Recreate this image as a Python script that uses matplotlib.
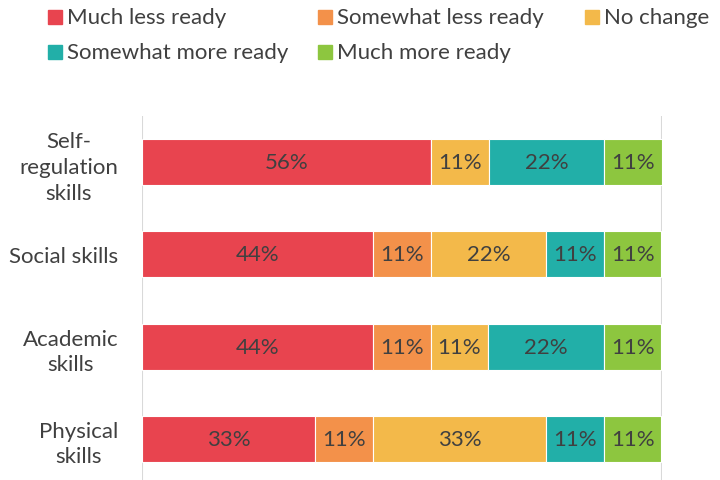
import matplotlib
matplotlib.use('Agg')
import matplotlib.pyplot as plt
from matplotlib.patches import Rectangle
import numpy as np

plt.rcParams['font.family'] = ['Lato', 'DejaVu Sans']

# Data: share of respondents (n = 9), in percent
categories = ['Self-\nregulation\nskills', 'Social skills', 'Academic\nskills', 'Physical\nskills']
series_names = ['Much less ready', 'Somewhat less ready', 'No change',
                'Somewhat more ready', 'Much more ready']
much_less = [55.6, 44.4, 44.4, 33.3]
somewhat_less = [0.0, 11.1, 11.1, 11.1]
no_change = [11.1, 22.2, 11.1, 33.3]
somewhat_more = [22.2, 11.1, 22.2, 11.1]
much_more = [11.1, 11.1, 11.1, 11.1]

colors = ['#E8444F', '#F3914A', '#F3B94A', '#22AFA8', '#8DC63F']
text_col = '#404040'
fs = 16

series = [much_less, somewhat_less, no_change, somewhat_more, much_more]

W, H = 720, 481
fig = plt.figure(figsize=(W / 100, H / 100), dpi=100)
ax = fig.add_axes([142 / W, -5 / H, 520 / W, 369 / H])

y = np.arange(len(categories))
left = np.zeros(len(categories))
for name, vals, col in zip(series_names, series, colors):
    vals = np.array(vals)
    ax.barh(y, vals, left=left, height=0.5, color=col,
            edgecolor='white', linewidth=0.8, label=name)
    for yi, l, v in zip(y, left, vals):
        if v > 0:
            ax.text(l + v / 2, yi, f'{v:.0f}%', ha='center', va='center',
                    fontsize=fs, color=text_col)
    left += vals

ax.set_xlim(0, 100)
ax.set_ylim(len(categories) - 0.5, -0.5)
ax.set_yticks(y)
ax.set_yticklabels(categories, fontsize=fs, color=text_col,
                   multialignment='center', linespacing=1.35)
ax.tick_params(axis='y', length=0, pad=17)
ax.set_xticks([0, 100])
ax.tick_params(axis='x', length=0, labelbottom=False)
ax.xaxis.grid(True, color='#D9D9D9', linewidth=1.5)
ax.set_axisbelow(True)
for s in ax.spines.values():
    s.set_visible(False)

# legend drawn by hand: row 1 = first three entries, row 2 = last two
leg_pos = [(48, 18), (318, 18), (585, 18), (48, 53), (318, 53)]
for (px, py), name, col in zip(leg_pos, series_names, colors):
    fig.patches.append(Rectangle((px / W, (H - py - 7) / H), 14 / W, 14 / H,
                                 transform=fig.transFigure, color=col))
    fig.text((px + 19) / W, (H - py) / H, name, fontsize=fs, color=text_col,
             ha='left', va='center')

fig.savefig('out.png', dpi=100)
